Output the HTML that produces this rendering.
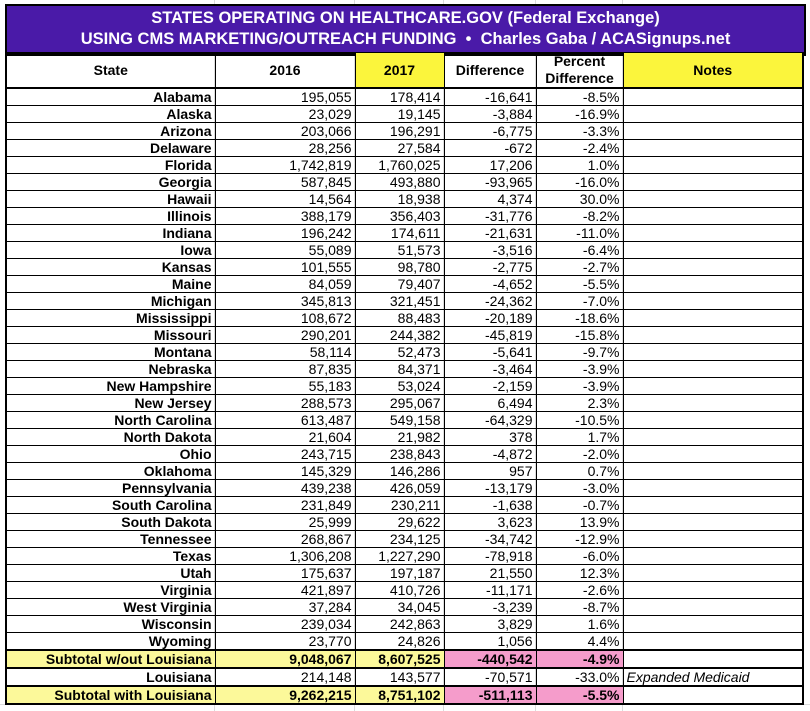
<!DOCTYPE html>
<html><head><meta charset="utf-8"><style>
html,body{margin:0;padding:0;background:#fff;width:810px;height:711px;overflow:hidden}
body{position:relative;font-family:"Liberation Sans Narrow","Liberation Sans",Arial,sans-serif}
.grid{position:absolute;top:0;bottom:0;width:1px;background:#dcdcdc}
.hg{position:absolute;left:0;right:0;height:1px;background:#dcdcdc}
#title{position:absolute;left:5px;top:4px;width:797px;height:45px;background:#4a1aa8;border:2px solid #000;border-bottom:3px solid #000;color:#fff;font-weight:bold;font-size:16.5px;text-align:center;line-height:21px;padding-top:2px;box-sizing:content-box}
table{position:absolute;left:5px;top:52px;border-collapse:collapse;table-layout:fixed;font-size:14px}
td{border:1px solid #000;padding:0 3px;height:16px;line-height:16px;text-align:right;white-space:nowrap;overflow:hidden}
td:first-child{font-weight:bold;border-left:2px solid #000}
td:last-child{border-right:2px solid #000;text-align:left}
tr.h td{height:33px;line-height:17px;text-align:center;font-weight:bold;border-bottom:2px solid #000}
.y{background:#fbf53c}
tr.s td{font-weight:bold;border-top:2px solid #000;border-bottom:2px solid #000}
tr.s td.ly{background:#fcf99a}
tr.s td.pk{background:#f59ccb}
tr.s td:last-child{background:#fff}
tr.last td{border-bottom:2px solid #000}
</style></head><body>
<div class="grid" style="left:214px"></div><div class="grid" style="left:354px"></div><div class="grid" style="left:443px"></div><div class="grid" style="left:535px"></div><div class="grid" style="left:622px"></div>
<div class="hg" style="top:704px"></div>
<div id="title">STATES OPERATING ON HEALTHCARE.GOV (Federal Exchange)<br>USING CMS MARKETING/OUTREACH FUNDING &nbsp;•&nbsp; Charles Gaba / ACASignups.net</div>
<table>
<colgroup><col style="width:209px"><col style="width:140px"><col style="width:89px"><col style="width:92px"><col style="width:87px"><col style="width:180px"></colgroup>
<tr class="h"><td style="text-align:center">State</td><td>2016</td><td class="y">2017</td><td>Difference</td><td>Percent<br>Difference</td><td class="y" style="text-align:center">Notes</td></tr>
<tr><td>Alabama</td><td>195,055</td><td>178,414</td><td>-16,641</td><td>-8.5%</td><td></td></tr>
<tr><td>Alaska</td><td>23,029</td><td>19,145</td><td>-3,884</td><td>-16.9%</td><td></td></tr>
<tr><td>Arizona</td><td>203,066</td><td>196,291</td><td>-6,775</td><td>-3.3%</td><td></td></tr>
<tr><td>Delaware</td><td>28,256</td><td>27,584</td><td>-672</td><td>-2.4%</td><td></td></tr>
<tr><td>Florida</td><td>1,742,819</td><td>1,760,025</td><td>17,206</td><td>1.0%</td><td></td></tr>
<tr><td>Georgia</td><td>587,845</td><td>493,880</td><td>-93,965</td><td>-16.0%</td><td></td></tr>
<tr><td>Hawaii</td><td>14,564</td><td>18,938</td><td>4,374</td><td>30.0%</td><td></td></tr>
<tr><td>Illinois</td><td>388,179</td><td>356,403</td><td>-31,776</td><td>-8.2%</td><td></td></tr>
<tr><td>Indiana</td><td>196,242</td><td>174,611</td><td>-21,631</td><td>-11.0%</td><td></td></tr>
<tr><td>Iowa</td><td>55,089</td><td>51,573</td><td>-3,516</td><td>-6.4%</td><td></td></tr>
<tr><td>Kansas</td><td>101,555</td><td>98,780</td><td>-2,775</td><td>-2.7%</td><td></td></tr>
<tr><td>Maine</td><td>84,059</td><td>79,407</td><td>-4,652</td><td>-5.5%</td><td></td></tr>
<tr><td>Michigan</td><td>345,813</td><td>321,451</td><td>-24,362</td><td>-7.0%</td><td></td></tr>
<tr><td>Mississippi</td><td>108,672</td><td>88,483</td><td>-20,189</td><td>-18.6%</td><td></td></tr>
<tr><td>Missouri</td><td>290,201</td><td>244,382</td><td>-45,819</td><td>-15.8%</td><td></td></tr>
<tr><td>Montana</td><td>58,114</td><td>52,473</td><td>-5,641</td><td>-9.7%</td><td></td></tr>
<tr><td>Nebraska</td><td>87,835</td><td>84,371</td><td>-3,464</td><td>-3.9%</td><td></td></tr>
<tr><td>New Hampshire</td><td>55,183</td><td>53,024</td><td>-2,159</td><td>-3.9%</td><td></td></tr>
<tr><td>New Jersey</td><td>288,573</td><td>295,067</td><td>6,494</td><td>2.3%</td><td></td></tr>
<tr><td>North Carolina</td><td>613,487</td><td>549,158</td><td>-64,329</td><td>-10.5%</td><td></td></tr>
<tr><td>North Dakota</td><td>21,604</td><td>21,982</td><td>378</td><td>1.7%</td><td></td></tr>
<tr><td>Ohio</td><td>243,715</td><td>238,843</td><td>-4,872</td><td>-2.0%</td><td></td></tr>
<tr><td>Oklahoma</td><td>145,329</td><td>146,286</td><td>957</td><td>0.7%</td><td></td></tr>
<tr><td>Pennsylvania</td><td>439,238</td><td>426,059</td><td>-13,179</td><td>-3.0%</td><td></td></tr>
<tr><td>South Carolina</td><td>231,849</td><td>230,211</td><td>-1,638</td><td>-0.7%</td><td></td></tr>
<tr><td>South Dakota</td><td>25,999</td><td>29,622</td><td>3,623</td><td>13.9%</td><td></td></tr>
<tr><td>Tennessee</td><td>268,867</td><td>234,125</td><td>-34,742</td><td>-12.9%</td><td></td></tr>
<tr><td>Texas</td><td>1,306,208</td><td>1,227,290</td><td>-78,918</td><td>-6.0%</td><td></td></tr>
<tr><td>Utah</td><td>175,637</td><td>197,187</td><td>21,550</td><td>12.3%</td><td></td></tr>
<tr><td>Virginia</td><td>421,897</td><td>410,726</td><td>-11,171</td><td>-2.6%</td><td></td></tr>
<tr><td>West Virginia</td><td>37,284</td><td>34,045</td><td>-3,239</td><td>-8.7%</td><td></td></tr>
<tr><td>Wisconsin</td><td>239,034</td><td>242,863</td><td>3,829</td><td>1.6%</td><td></td></tr>
<tr><td>Wyoming</td><td>23,770</td><td>24,826</td><td>1,056</td><td>4.4%</td><td></td></tr>
<tr class="s"><td class="ly">Subtotal w/out Louisiana</td><td class="ly">9,048,067</td><td class="ly">8,607,525</td><td class="pk">-440,542</td><td class="pk">-4.9%</td><td></td></tr>
<tr><td>Louisiana</td><td>214,148</td><td>143,577</td><td>-70,571</td><td>-33.0%</td><td style="font-style:italic">Expanded Medicaid</td></tr>
<tr class="s"><td class="ly">Subtotal with Louisiana</td><td class="ly">9,262,215</td><td class="ly">8,751,102</td><td class="pk">-511,113</td><td class="pk">-5.5%</td><td></td></tr>
</table>
</body></html>
